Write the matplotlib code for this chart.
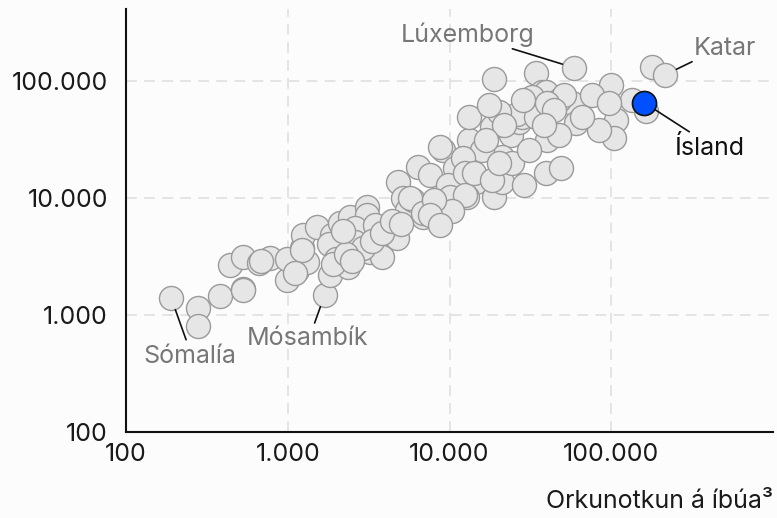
import matplotlib
matplotlib.use("Agg")
import matplotlib.pyplot as plt
from matplotlib.ticker import FuncFormatter, FixedLocator, NullLocator

# ---- data ----
energy = [190, 278, 278, 380, 528, 532, 439, 528, 662, 774, 986, 1028, 1136, 1220, 1310, 1238,
          1510, 1690, 680, 986, 1220, 1105, 1870, 1820, 2094, 2415, 3074, 3074, 2592, 2415,
          2345, 3206, 3444, 3805, 4265, 4707, 4775, 5127, 5429, 6347, 7525, 6814, 9060, 10000,
          9724, 10740, 13290, 14680, 18970, 21250, 21870, 24160, 27050, 29020, 18420, 12740,
          5912, 18970, 13290, 27810, 34430, 37510, 40280, 31170, 59110, 57450, 8675, 179000,
          215400, 164500, 134800, 100000, 76370, 107400, 104400, 84400, 60800, 39720, 47760,
          97300, 66250, 32540, 51260, 28220, 26000, 34430, 21250, 15990, 12040, 9724, 12390,
          24490, 39720, 49120, 5663, 6814, 10000, 12390, 14270, 18420, 20370, 10290, 28500,
          40280, 44500, 20370, 21870, 17660, 16900, 31170, 47760, 38550, 8070, 7525, 8675,
          1800, 2000, 2600, 2900, 3300, 3800, 4400, 5000, 1900, 2300, 2500, 2200]
gdp = [1400, 1150, 805, 1450, 1670, 1640, 2680, 3130, 2780, 3070, 1990, 2950, 2430, 3740, 2840,
       4830, 5650, 1480, 2900, 3000, 3600, 2290, 4830, 2200, 6110, 6880, 8380, 7160, 5550, 3600,
       2570, 3450, 5880, 3130, 5550, 4550, 13700, 10000, 7890, 18400, 15730, 6880, 25700, 8220,
       12400, 18030, 31330, 13700, 10200, 13700, 21130, 34540, 44670, 12900, 40480, 10200,
       9620, 104000, 49200, 53240, 117000, 80500, 31330, 68900, 129000, 64900, 27290, 131800,
       112500, 55450, 68900, 92500, 75900, 46400, 32600, 38100, 43700, 80500, 68900, 64900,
       49200, 72900, 75900, 49200, 52000, 49200, 22390, 25700, 21970, 12900, 16350, 19910,
       16350, 18030, 10000, 7450, 10200, 10610, 16350, 14260, 19910, 7700, 68900, 64900, 56500,
       54300, 42100, 62400, 31330, 25700, 34540, 42100, 9620, 7160, 5880, 4000, 3000, 4200,
       3700, 4300, 5000, 6300, 6000, 2700, 3300, 2900, 5200]

highlight_name = "Ísland"
highlight_x = 160000
highlight_y = 64900

label_names = ["Lúxemborg", "Katar", "Sómalía", "Mósambík"]
label_x = [59110, 215400, 190, 1690]
label_y = [129000, 112500, 1400, 1480]

tick_values = [100, 1000, 10000, 100000]
x_label = "Orkunotkun á íbúa³"

# ---- style ----
plt.rcParams['font.family'] = ['Inter', 'DejaVu Sans']
BG = '#fcfcfc'
FS = 18
fig = plt.figure(figsize=(7.77, 5.18), dpi=100, facecolor=BG)
ax = fig.add_axes([126/777, 86/518, 647/777, 423/518], facecolor=BG)

ax.set_xscale('log')
ax.set_yscale('log')
ax.set_xlim(100, 1e6)
ax.set_ylim(100, 4.1e5)

ax.scatter(energy, gdp, s=300, facecolor='#e6e6e6', edgecolor='#9a9a9a', linewidth=1.0, zorder=3)
ax.scatter([highlight_x], [highlight_y], s=300, facecolor='#0050ff', edgecolor='#111111',
           linewidth=1.2, zorder=5)

fmt = FuncFormatter(lambda v, p: f"{int(round(v)):,}".replace(",", "."))
for axis in (ax.xaxis, ax.yaxis):
    axis.set_major_locator(FixedLocator(tick_values))
    axis.set_minor_locator(NullLocator())
    axis.set_major_formatter(fmt)

ax.tick_params(axis='both', length=0, labelsize=FS, colors='#1a1a1a')
ax.tick_params(axis='x', pad=8)
ax.tick_params(axis='y', pad=13)
ax.grid(True, which='major', color='#e2e2e2', linestyle=(0, (6, 4)), linewidth=1.3, zorder=0)
for s in ('top', 'right'):
    ax.spines[s].set_visible(False)
for s in ('left', 'bottom'):
    ax.spines[s].set_color('#111111')
    ax.spines[s].set_linewidth(1.5)
    ax.spines[s].set_zorder(6)

# labels with leader lines: (line end offset pt, text offset pt, ha, color)
specs = {
    "Lúxemborg": ((-44.6, 13.7), (-28.8, 18.7), 'right', '#777777'),
    "Katar": ((19.4, 9.4), (20.9, 14.4), 'left', '#777777'),
    "Sómalía": ((10.8, -30.2), (-20.2, -46.8), 'left', '#777777'),
    "Mósambík": ((-7.2, -20.2), (-56.2, -36.0), 'left', '#777777'),
}
all_names = label_names + [highlight_name]
all_x = label_x + [highlight_x]
all_y = label_y + [highlight_y]
specs[highlight_name] = ((32.4, -20.9), (21.6, -37.4), 'left', '#111111')

for name, px, py in zip(all_names, all_x, all_y):
    line_off, text_off, ha, col = specs[name]
    ax.annotate('', xy=(px, py), xytext=line_off, textcoords='offset points',
                arrowprops=dict(arrowstyle='-', color='#111111', lw=1.2,
                                shrinkA=0, shrinkB=9), zorder=7)
    ax.annotate(name, xy=(px, py), xytext=text_off, textcoords='offset points',
                ha=ha, va='baseline', fontsize=FS, color=col, zorder=7)

fig.text(773/777, 1 - 502/518, x_label, ha='right', va='center', fontsize=FS, color='#1a1a1a')

fig.savefig('out.png', dpi=100, facecolor=BG)
